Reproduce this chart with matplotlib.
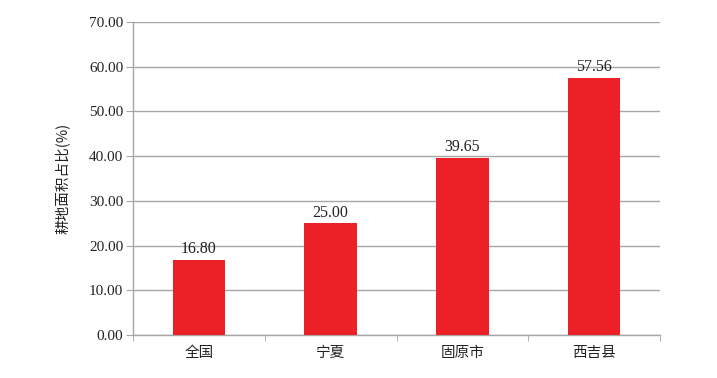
import matplotlib
matplotlib.use("Agg")
import matplotlib.pyplot as plt
import numpy as np

categories = ["全国", "宁夏", "固原市", "西吉县"]
values = [16.80, 25.00, 39.65, 57.56]
yticks = [0, 10, 20, 30, 40, 50, 60, 70]
ylabel = "耕地面积占比(%)"

plt.rcParams['font.family'] = ['Liberation Serif', 'Noto Sans CJK SC', 'DejaVu Sans']

fig = plt.figure(figsize=(7.17, 3.78), dpi=100)
ax = fig.add_axes([0.1855, 0.1138, 0.735, 0.828])

x = np.arange(len(categories))
bars = ax.bar(x, values, width=0.4, color="#ec2128", zorder=3)
for xi, v in zip(x, values):
    ax.text(xi, v + 0.6, f"{v:.2f}", ha="center", va="bottom", fontsize=11.5, color="#222222", zorder=4)

ax.set_xlim(-0.5, len(categories) - 0.5)
ax.set_ylim(0, 70)
ax.set_yticks(yticks)
ax.set_yticklabels([f"{t:.2f}" for t in yticks], fontsize=11, color="#222222")
ax.yaxis.grid(True, color="#a6a6a6", linewidth=1.0, zorder=0)
ax.set_axisbelow(True)

ax.set_xticks(x)
ax.set_xticklabels(categories, fontsize=10.5, color="#222222", family=['Noto Sans CJK SC'])
ax.set_xticks(np.arange(-0.5, len(categories) + 0.5, 1), minor=True)
ax.tick_params(axis="x", which="major", length=0, pad=8)
ax.tick_params(axis="x", which="minor", length=4, color="#a6a6a6", direction="out")
ax.tick_params(axis="y", length=5, color="#a6a6a6", direction="out", pad=2)

for s in ["top", "right"]:
    ax.spines[s].set_visible(False)
for s in ["left", "bottom"]:
    ax.spines[s].set_color("#a6a6a6")
    ax.spines[s].set_linewidth(1.0)

ax.set_ylabel(ylabel, fontsize=10.5, family=['Noto Sans CJK SC', 'DejaVu Sans'], color="#222222", labelpad=14)

fig.savefig("out.png", dpi=100)
